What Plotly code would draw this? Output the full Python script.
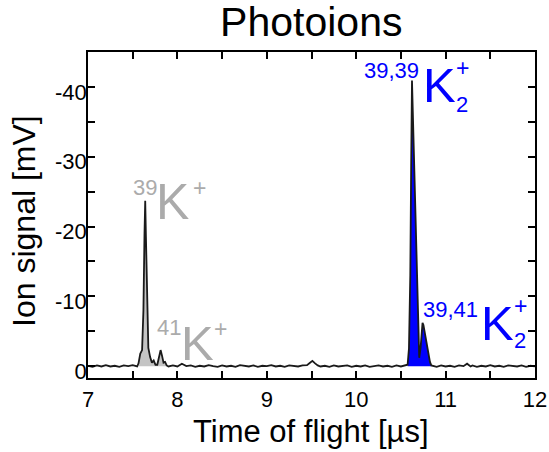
import plotly.graph_objects as go

# Time-of-flight trace (µs) and ion signal (mV, negative = ion current)
time_us = [
    7.00, 7.05, 7.10, 7.15, 7.20, 7.25, 7.30, 7.35, 7.40, 7.45, 7.50, 7.55,
    7.565, 7.585, 7.605, 7.620, 7.632, 7.640, 7.648, 7.660, 7.675, 7.695,
    7.715, 7.735, 7.755, 7.775, 7.795, 7.812, 7.828, 7.845, 7.862, 7.880,
    7.90, 7.95, 8.00, 8.05, 8.10, 8.15, 8.20, 8.25, 8.30, 8.35, 8.40, 8.45,
    8.50, 8.55, 8.60, 8.65, 8.70, 8.75, 8.80, 8.85, 8.90, 8.95, 9.00, 9.05,
    9.10, 9.15, 9.20, 9.25, 9.30, 9.35, 9.40, 9.45, 9.48, 9.51, 9.54, 9.57,
    9.60, 9.65, 9.70, 9.75, 9.80, 9.85, 9.90, 9.95, 10.00, 10.05, 10.10,
    10.15, 10.20, 10.25, 10.30, 10.35, 10.40, 10.45, 10.50, 10.55,
    10.575, 10.590, 10.605, 10.615, 10.624, 10.633, 10.645, 10.660, 10.675,
    10.690, 10.705, 10.720, 10.732, 10.742, 10.752, 10.765, 10.780, 10.795,
    10.810, 10.825, 10.840,
    10.87, 10.90, 10.95, 11.00, 11.05, 11.10, 11.15, 11.20, 11.24, 11.28,
    11.30, 11.35, 11.40, 11.45, 11.50, 11.55, 11.60, 11.65, 11.70, 11.75,
    11.80, 11.85, 11.90, 11.95, 12.00,
]
signal_mV = [
    -0.05, 0.10, -0.10, 0.05, -0.15, 0.05, -0.05, 0.10, -0.10, 0.00, -0.15, 0.05,
    -0.4, -1.8, -2.3, -8.0, -19.0, -23.7, -18.5, -8.5, -2.6, -1.3,
    -0.5, -0.8, -0.2, -0.2, -1.3, -2.3, -1.5, -0.5, -0.6, -0.1,
    0.05, -0.10, 0.05, -0.35, 0.00, -0.10, 0.10, -0.05, 0.05, -0.15, 0.00, 0.10,
    -0.10, 0.05, -0.05, 0.10, -0.15, 0.00, 0.05, -0.10, 0.10, -0.05, 0.00, -0.15,
    0.05, -0.05, 0.10, -0.10, 0.00, 0.05, -0.10, -0.15, -0.45, -0.75, -0.40, -0.10,
    0.05, -0.05, 0.10, -0.10, 0.05, 0.00, -0.10, 0.10, -0.05, 0.05, -0.10,
    0.10, 0.00, -0.10, 0.05, -0.05, 0.10, -0.10, 0.05, -0.05,
    -0.2, -2.5, -13.0, -29.0, -40.9, -36.5, -30.0, -22.0, -14.0,
    -6.5, -1.2, -2.6, -5.3, -6.2, -5.9, -5.0, -4.0, -2.8,
    -1.5, -0.6, -0.1,
    -0.05, 0.10, -0.10, 0.05, -0.05, 0.10, -0.10, 0.00, -0.35, 0.05,
    -0.10, 0.10, -0.05, 0.05, -0.15, 0.05, -0.05, 0.10, -0.10, 0.00,
    0.05, -0.10, 0.10, -0.05, 0.05,
]

# Shaded time windows of the atomic and dimer ion peaks
atom_window = (7.56, 7.885)
dimer_window = (10.57, 10.845)

y_tick_values = [-40, -30, -20, -10, 0]
y_tick_labels = ["-40", "-30", "-20", "-10", "0"]
x_tick_values = [7, 8, 9, 10, 11, 12]
x_tick_labels = ["7", "8", "9", "10", "11", "12"]

GRAY_TEXT = "#ababab"
GRAY_FILL = "#c4c4c4"
BLUE = "#0000ff"
FONT = "Liberation Sans, Arial, sans-serif"


def window(lo, hi):
    pts = [(t, v) for t, v in zip(time_us, signal_mV) if lo <= t <= hi]
    return [p[0] for p in pts], [p[1] for p in pts]


fig = go.Figure()

for (lo, hi), colour in ((atom_window, GRAY_FILL), (dimer_window, BLUE)):
    wt, wv = window(lo, hi)
    fig.add_trace(go.Scatter(
        x=wt, y=wv, mode="lines", fill="tozeroy", fillcolor=colour,
        line=dict(width=0, color=colour), hoverinfo="skip", showlegend=False,
    ))

fig.add_trace(go.Scatter(
    x=time_us, y=signal_mV, mode="lines",
    line=dict(color="#1a1a1a", width=1.8), showlegend=False,
))

axis_common = dict(
    showline=True, linecolor="black", linewidth=1.8, mirror="allticks",
    ticks="inside", ticklen=7, tickwidth=1.6, tickcolor="black",
    showgrid=False, zeroline=False, automargin=False,
    tickfont=dict(family=FONT, size=22, color="black"),
)

fig.update_xaxes(
    range=[7, 12], tickvals=x_tick_values, ticktext=x_tick_labels,
    ticklabelstandoff=1,
    minor=dict(dtick=0.5, tick0=7, ticks="inside", ticklen=7, tickwidth=1.6,
               tickcolor="black"),
    **axis_common,
)
fig.update_yaxes(
    range=[1.7, -45], tickvals=y_tick_values, ticktext=y_tick_labels,
    ticklabelshift=-5, ticklabelstandoff=-5,
    minor=dict(dtick=5, tick0=0, ticks="inside", ticklen=7, tickwidth=1.6,
               tickcolor="black"),
    **axis_common,
)


def label(text, t, v, size, colour):
    fig.add_annotation(
        x=t, y=v, xref="x", yref="y", text=text, showarrow=False,
        xanchor="left", yanchor="middle",
        font=dict(family=FONT, size=size, color=colour),
    )


# 39K+
label("39", 7.481, -25.57, 22, GRAY_TEXT)
label("K", 7.738, -23.57, 50, GRAY_TEXT)
label("+", 8.152, -25.57, 23, GRAY_TEXT)
# 41K+
label("41", 7.749, -5.52, 22, GRAY_TEXT)
label("K", 8.018, -3.37, 49, GRAY_TEXT)
label("+", 8.387, -5.37, 23, GRAY_TEXT)
# 39,39K2+
label("39,39", 10.065, -42.41, 22, BLUE)
label("K", 10.725, -40.33, 49, BLUE)
label("+", 11.094, -42.77, 23, BLUE)
label("2", 11.094, -37.46, 22, BLUE)
# 39,41K2+
label("39,41", 10.725, -8.09, 22, BLUE)
label("K", 11.374, -6.23, 49, BLUE)
label("+", 11.743, -8.67, 23, BLUE)
label("2", 11.743, -3.65, 22, BLUE)

# Axis titles
fig.add_annotation(
    text="Time of flight [µs]", xref="paper", yref="paper",
    x=0.499, y=-0.163, xanchor="center", yanchor="middle", showarrow=False,
    font=dict(family=FONT, size=31, color="black"),
)
fig.add_annotation(
    text="Ion signal [mV]", xref="paper", yref="paper", textangle=-90,
    x=-0.143, y=0.482, xanchor="center", yanchor="middle", showarrow=False,
    font=dict(family=FONT, size=32, color="black"),
)

fig.update_layout(
    width=549, height=452,
    margin=dict(l=88, r=14, t=52, b=74),
    paper_bgcolor="white", plot_bgcolor="white",
    title=dict(text="Photoions", x=0.567, xanchor="center",
               y=1 - 22 / 452, yanchor="middle", yref="container",
               font=dict(family=FONT, size=41, color="black")),
)

fig.write_html("out.html")
